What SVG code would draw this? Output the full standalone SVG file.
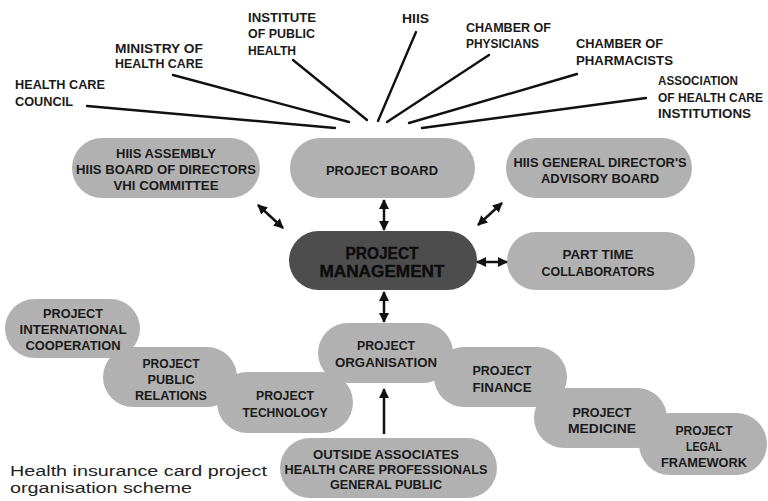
<svg xmlns="http://www.w3.org/2000/svg" width="768" height="501" viewBox="0 0 768 501">
  <style>
    .pill { fill: #b1b1b1; }
    .dark { fill: #4d4d4d; }
    .t { font-family: "Liberation Sans", Arial, sans-serif; font-weight: bold; font-size: 13.5px; fill: #1a1a1a; text-anchor: middle; }
    .lbl { font-family: "Liberation Sans", Arial, sans-serif; font-weight: bold; font-size: 13.5px; fill: #1a1a1a; }
    .lbl.sm { font-size: 12.3px; }
    .big { font-family: "Liberation Sans", Arial, sans-serif; font-weight: bold; font-size: 16px; fill: #0d0d0d; text-anchor: middle; stroke: #0d0d0d; stroke-width: 0.4; }
    .cap { font-family: "Liberation Sans", Arial, sans-serif; font-size: 14px; fill: #222; }
    .ray { stroke: #111; stroke-width: 2.4; fill: none; stroke-linecap: round; }
    .arr { stroke: #111; stroke-width: 2.5; fill: none; }
  </style>
  <defs>
    <marker id="head" markerUnits="userSpaceOnUse" markerWidth="10" markerHeight="10" refX="9" refY="5" orient="auto-start-reverse">
      <path d="M0,0 L10,5 L0,10 z" fill="#111"/>
    </marker>
  </defs>
  <rect width="768" height="501" fill="#fff"/>

  <!-- stakeholder labels converging on the project board -->
  <g id="stakeholders">
    <text class="lbl" x="15" y="89" textLength="90" lengthAdjust="spacingAndGlyphs">HEALTH CARE</text>
    <text class="lbl" x="15" y="106" textLength="58" lengthAdjust="spacingAndGlyphs">COUNCIL</text>
    <text class="lbl" x="115" y="53" textLength="88" lengthAdjust="spacingAndGlyphs">MINISTRY OF</text>
    <text class="lbl" x="115" y="68" textLength="88" lengthAdjust="spacingAndGlyphs">HEALTH CARE</text>
    <text class="lbl" x="248" y="22" textLength="68" lengthAdjust="spacingAndGlyphs">INSTITUTE</text>
    <text class="lbl" x="248" y="38" textLength="67" lengthAdjust="spacingAndGlyphs">OF PUBLIC</text>
    <text class="lbl" x="248" y="55" textLength="48" lengthAdjust="spacingAndGlyphs">HEALTH</text>
    <text class="lbl" x="402" y="23" textLength="27" lengthAdjust="spacingAndGlyphs">HIIS</text>
    <text class="lbl" x="466" y="32" textLength="85" lengthAdjust="spacingAndGlyphs">CHAMBER OF</text>
    <text class="lbl" x="466" y="48" textLength="73" lengthAdjust="spacingAndGlyphs">PHYSICIANS</text>
    <text class="lbl" x="576" y="48" textLength="87" lengthAdjust="spacingAndGlyphs">CHAMBER OF</text>
    <text class="lbl" x="576" y="65" textLength="97" lengthAdjust="spacingAndGlyphs">PHARMACISTS</text>
    <text class="lbl" x="658" y="85" textLength="80" lengthAdjust="spacingAndGlyphs">ASSOCIATION</text>
    <text class="lbl sm" x="658" y="102" textLength="105" lengthAdjust="spacingAndGlyphs">OF HEALTH CARE</text>
    <text class="lbl" x="658" y="118" textLength="93" lengthAdjust="spacingAndGlyphs">INSTITUTIONS</text>
  </g>

  <g id="n-assembly">
    <rect class="pill" x="72" y="138" width="188" height="60" rx="30"/>
    <text class="t" x="166" y="158" textLength="100" lengthAdjust="spacingAndGlyphs">HIIS ASSEMBLY</text>
    <text class="t" x="166" y="174" textLength="180" lengthAdjust="spacingAndGlyphs">HIIS BOARD OF DIRECTORS</text>
    <text class="t" x="166" y="190" textLength="105" lengthAdjust="spacingAndGlyphs">VHI COMMITTEE</text>
  </g>
  <g id="n-board">
    <rect class="pill" x="290" y="138" width="185" height="60" rx="30"/>
    <text class="t" x="382" y="175" textLength="112" lengthAdjust="spacingAndGlyphs">PROJECT BOARD</text>
  </g>
  <g id="n-advisory">
    <rect class="pill" x="506" y="138" width="186" height="60" rx="30"/>
    <text class="t" x="600" y="167" textLength="173" lengthAdjust="spacingAndGlyphs">HIIS GENERAL DIRECTOR'S</text>
    <text class="t" x="600" y="183" textLength="118" lengthAdjust="spacingAndGlyphs">ADVISORY BOARD</text>
  </g>
  <g id="n-management">
    <rect class="dark" x="289" y="231" width="188" height="59" rx="29.5"/>
    <text class="big" x="382" y="259" textLength="73" lengthAdjust="spacingAndGlyphs">PROJECT</text>
    <text class="big" x="382" y="277" textLength="125" lengthAdjust="spacingAndGlyphs">MANAGEMENT</text>
  </g>
  <g id="n-parttime">
    <rect class="pill" x="507" y="232" width="188" height="58" rx="29"/>
    <text class="t" x="598" y="259" textLength="71" lengthAdjust="spacingAndGlyphs">PART TIME</text>
    <text class="t" x="598" y="276" textLength="113" lengthAdjust="spacingAndGlyphs">COLLABORATORS</text>
  </g>

  <!-- project work streams, overlapping in a chain -->
  <g id="n-intl">
    <rect class="pill" x="5" y="299" width="135" height="59" rx="29.5"/>
    <text class="t" x="73" y="318" textLength="60" lengthAdjust="spacingAndGlyphs">PROJECT</text>
    <text class="t" x="73" y="334" textLength="107" lengthAdjust="spacingAndGlyphs">INTERNATIONAL</text>
    <text class="t" x="73" y="350" textLength="95" lengthAdjust="spacingAndGlyphs">COOPERATION</text>
  </g>
  <g id="n-pr">
    <rect class="pill" x="103" y="347" width="134" height="60" rx="30"/>
    <text class="t" x="171" y="368" textLength="57" lengthAdjust="spacingAndGlyphs">PROJECT</text>
    <text class="t" x="171" y="384" textLength="47" lengthAdjust="spacingAndGlyphs">PUBLIC</text>
    <text class="t" x="171" y="400" textLength="72" lengthAdjust="spacingAndGlyphs">RELATIONS</text>
  </g>
  <g id="n-tech">
    <rect class="pill" x="217" y="372" width="136" height="61" rx="30.5"/>
    <text class="t" x="285" y="400" textLength="58" lengthAdjust="spacingAndGlyphs">PROJECT</text>
    <text class="t" x="285" y="417" textLength="85" lengthAdjust="spacingAndGlyphs">TECHNOLOGY</text>
  </g>
  <g id="n-organisation">
    <rect class="pill" x="318" y="323" width="135" height="60" rx="30"/>
    <text class="t" x="386" y="350" textLength="58" lengthAdjust="spacingAndGlyphs">PROJECT</text>
    <text class="t" x="386" y="367" textLength="102" lengthAdjust="spacingAndGlyphs">ORGANISATION</text>
  </g>
  <g id="n-finance">
    <rect class="pill" x="434" y="347" width="133" height="60" rx="30"/>
    <text class="t" x="502" y="375" textLength="59" lengthAdjust="spacingAndGlyphs">PROJECT</text>
    <text class="t" x="502" y="392" textLength="59" lengthAdjust="spacingAndGlyphs">FINANCE</text>
  </g>
  <g id="n-medicine">
    <rect class="pill" x="534" y="388" width="133" height="60" rx="30"/>
    <text class="t" x="602" y="417" textLength="59" lengthAdjust="spacingAndGlyphs">PROJECT</text>
    <text class="t" x="602" y="433" textLength="68" lengthAdjust="spacingAndGlyphs">MEDICINE</text>
  </g>
  <g id="n-legal">
    <rect class="pill" x="639" y="413" width="128" height="62" rx="31"/>
    <text class="t" x="704" y="435" textLength="57" lengthAdjust="spacingAndGlyphs">PROJECT</text>
    <text class="t" x="704" y="451" textLength="36" lengthAdjust="spacingAndGlyphs">LEGAL</text>
    <text class="t" x="704" y="467" textLength="86" lengthAdjust="spacingAndGlyphs">FRAMEWORK</text>
  </g>
  <g id="n-outside">
    <rect class="pill" x="280" y="438" width="217" height="60" rx="30"/>
    <text class="t" x="386" y="459" textLength="146" lengthAdjust="spacingAndGlyphs">OUTSIDE ASSOCIATES</text>
    <text class="t" x="386" y="474" textLength="203" lengthAdjust="spacingAndGlyphs">HEALTH CARE PROFESSIONALS</text>
    <text class="t" x="386" y="489" textLength="112" lengthAdjust="spacingAndGlyphs">GENERAL PUBLIC</text>
  </g>

  <g id="connectors">
    <!-- rays from stakeholders -->
    <line class="ray" x1="87" y1="106" x2="335" y2="128"/>
    <line class="ray" x1="173" y1="75" x2="349" y2="122"/>
    <line class="ray" x1="293" y1="60" x2="367" y2="120"/>
    <line class="ray" x1="416" y1="32" x2="378" y2="121"/>
    <line class="ray" x1="489" y1="55" x2="387" y2="122"/>
    <line class="ray" x1="577" y1="74" x2="409" y2="123"/>
    <line class="ray" x1="646" y1="98" x2="422" y2="128"/>
    <!-- two-way links around project management -->
    <line class="arr" x1="258" y1="205" x2="283" y2="228" marker-start="url(#head)" marker-end="url(#head)"/>
    <line class="arr" x1="384" y1="200" x2="384" y2="230" marker-start="url(#head)" marker-end="url(#head)"/>
    <line class="arr" x1="502" y1="203" x2="478" y2="225" marker-start="url(#head)" marker-end="url(#head)"/>
    <line class="arr" x1="477" y1="262" x2="507" y2="262" marker-start="url(#head)" marker-end="url(#head)"/>
    <line class="arr" x1="384" y1="292" x2="384" y2="322" marker-start="url(#head)" marker-end="url(#head)"/>
    <!-- outside input into organisation -->
    <line class="arr" x1="384" y1="434" x2="384" y2="389" stroke-width="3" marker-end="url(#head)"/>
  </g>

  <text class="cap" x="10" y="476" textLength="257" lengthAdjust="spacingAndGlyphs">Health insurance card project</text>
  <text class="cap" x="10" y="492.5" textLength="182" lengthAdjust="spacingAndGlyphs">organisation scheme</text>
</svg>
